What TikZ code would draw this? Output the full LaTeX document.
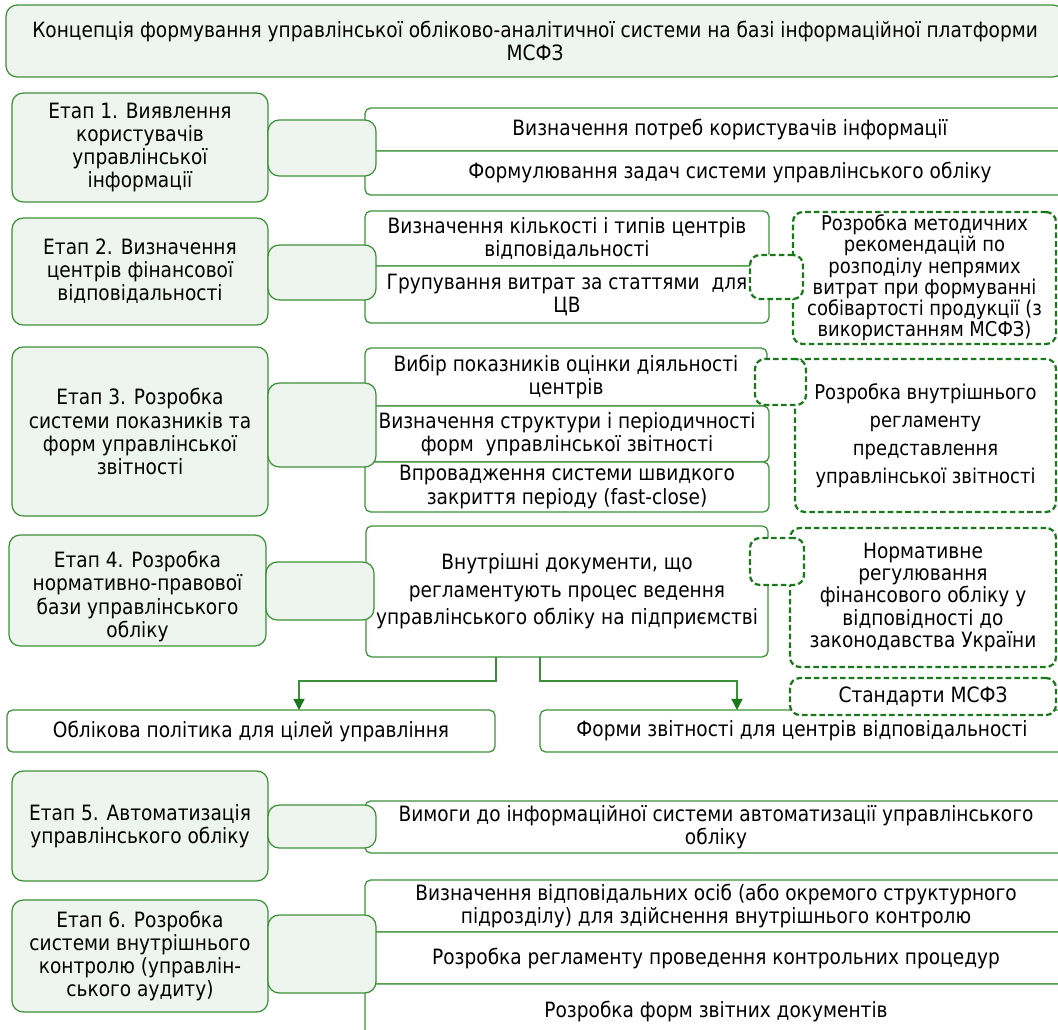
\documentclass[tikz,border=0pt]{standalone}
\usepackage{fontspec}
\setmainfont[FakeStretch=0.88]{DejaVu Sans}
\usetikzlibrary{arrows.meta}
\definecolor{frame}{RGB}{60,145,55}
\definecolor{pale}{RGB}{238,245,238}
\definecolor{dgreen}{RGB}{25,120,25}
\newcommand\upx{0.025cm}

\begin{document}
\begin{tikzpicture}[x=\upx,y=-\upx,
      every node/.style={inner sep=0pt,outer sep=0pt,align=center,
        font=\fontsize{15}{16.4}\selectfont},
      sz/.style 2 args={minimum width=#1*\upx,minimum height=#2*\upx,anchor=north west},
      stage/.style={draw=frame,fill=pale,rounded corners=8pt,line width=0.9pt},
      link/.style={draw=frame,fill=pale,rounded corners=8pt,line width=0.9pt},
      item/.style={draw=frame,fill=white,rounded corners=4pt,line width=0.9pt},
      note/.style={draw=dgreen,fill=white,dash pattern=on 4pt off 2.2pt,
        line width=1.6pt,rounded corners=7pt},
      flow/.style={draw=frame,line width=0.9pt,
        -{Triangle[width=8pt,length=8pt,color=dgreen]}}]
  \useasboundingbox (0,0) rectangle (1058,1030);
  % title
  \node[stage,sz={1058}{72}] (title) at (6,5)
    {Концепція формування управлінської обліково-аналітичної системи на базі інформаційної платформи\\МСФЗ};
  % stages
  \node[stage,sz={256}{109}] (s1) at (12,93)
    {Етап 1. Виявлення\\користувачів\\управлінської\\інформації};
  \node[stage,sz={256}{107}] (s2) at (12,218)
    {Етап 2. Визначення\\центрів фінансової\\відповідальності};
  \node[stage,sz={256}{169}] (s3) at (12,347)
    {Етап 3. Розробка\\системи показників та\\форм управлінської\\звітності};
  \node[stage,sz={257}{111}] (s4) at (9,535) {};
  \node at ([yshift=-6*\upx]s4.center)
    {Етап 4. Розробка\\нормативно-правової\\бази управлінського\\обліку};
  \node[stage,sz={256}{110}] (s5) at (12,771)
    {Етап 5. Автоматизація\\управлінського обліку};
  \node[stage,sz={256}{112}] (s6) at (12,900)
    {Етап 6. Розробка\\системи внутрішнього\\контролю (управлін-\\ського аудиту)};
  % items
  \node[item,sz={730}{43}] (r1a) at (365,108) {Визначення потреб користувачів інформації};
  \node[item,sz={730}{44}] (r1b) at (365,151) {Формулювання задач системи управлінського обліку};
  \node[item,sz={404}{55}] (r2a) at (365,211) {Визначення кількості і типів центрів\\відповідальності};
  \node[item,sz={404}{57}] (r2b) at (365,266) {Групування витрат за статтями\ \ для\\ЦВ};
  \node[item,sz={402}{58}] (r3a) at (365,348) {Вибір показників оцінки діяльності\\центрів};
  \node[item,sz={404}{56}] (r3b) at (365,406) {Визначення структури і періодичності\\форм\ \ управлінської звітності};
  \node[item,sz={404}{50}] (r3c) at (365,462) {Впровадження системи швидкого\\закриття періоду (fast-close)};
  \node[item,sz={402}{131},font=\fontsize{15}{19.5}\selectfont] (r4) at (366,526)
    {Внутрішні документи, що\\регламентують процес ведення\\управлінського обліку на підприємстві};
  \node[item,sz={488}{42}] (pol) at (7,710) {Облікова політика для цілей управління};
  \node[item,sz={524}{42}] (frm) at (540,710) {Форми звітності для центрів відповідальності};
  \node[item,sz={702}{52}] (r5) at (365,801) {Вимоги до інформаційної системи автоматизації управлінського\\обліку};
  \node[item,sz={702}{52}] (r6a) at (365,880) {Визначення відповідальних осіб (або окремого структурного\\підрозділу) для здійснення внутрішнього контролю};
  \node[item,sz={702}{52}] (r6b) at (365,932) {Розробка регламенту проведення контрольних процедур};
  \node[item,sz={702}{54}] (r6c) at (365,984) {Розробка форм звітних документів};
  % links
  \node[link,sz={108}{56}] (c1) at (268,120) {};
  \node[link,sz={108}{55}] (c2) at (268,245) {};
  \node[link,sz={108}{84}] (c3) at (268,383) {};
  \node[link,sz={108}{58}] (c4) at (266,562) {};
  \node[link,sz={108}{43}] (c5) at (268,805) {};
  \node[link,sz={108}{78}] (c6) at (268,915) {};
  % notes
  \node[note,sz={263}{132},font=\fontsize{14.5}{13.6}\selectfont] (n2) at (793,212)
    {Розробка методичних\\рекомендацій по\\розподілу непрямих\\витрат при формуванні\\собівартості продукції (з\\використанням МСФЗ)};
  \node[note,sz={261}{153},font=\fontsize{14.5}{20}\selectfont] (n3) at (795,359)
    {Розробка внутрішнього\\регламенту\\представлення\\управлінської звітності};
  \node[note,sz={266}{139},font=\fontsize{15}{15.8}\selectfont] (n4) at (790,528)
    {Нормативне\\регулювання\\фінансового обліку у\\відповідності до\\законодавства України};
  \node[note,sz={266}{37}] (n5) at (790,678) {Стандарти МСФЗ};
  \node[note,sz={53}{44}] (d2) at (750,255) {};
  \node[note,sz={51}{46}] (d3) at (755,359) {};
  \node[note,sz={54}{47}] (d4) at (750,538) {};
  % arrows
  \draw[flow] ([xshift=130*\upx]r4.south west) -- ++(0,24) -| ([xshift=292*\upx]pol.north west);
  \draw[flow] ([xshift=174*\upx]r4.south west) -- ++(0,24) -| ([xshift=197*\upx]frm.north west);
\end{tikzpicture}
\end{document}
